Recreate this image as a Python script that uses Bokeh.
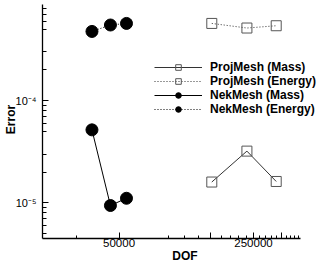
from bokeh.plotting import figure
from bokeh.models import Range1d, FixedTicker, Legend, LegendItem
from bokeh.embed import file_html
from bokeh.resources import INLINE

# Data
nek_dof = [36150, 45100, 54650]
nek_mass = [5.18e-5, 9.43e-6, 1.11e-5]
nek_energy = [4.75e-4, 5.49e-4, 5.69e-4]
proj_dof = [151700, 231000, 328000]
proj_mass = [1.60e-5, 3.21e-5, 1.62e-5]
proj_energy = [5.69e-4, 5.13e-4, 5.40e-4]

x_major = [50000, 150000, 250000, 350000]
x_labels = {50000: "50000", 150000: "", 250000: "250000", 350000: ""}
x_minor = [30000, 90000, 110000, 130000, 170000, 190000, 210000, 230000,
           270000, 290000, 310000, 330000, 370000, 390000, 410000, 430000]
y_major = [1e-5, 1e-4]
y_labels = {1e-5: "10\u207b\u2075", 1e-4: "10\u207b\u2074"}
y_minor = [5e-6, 6e-6, 7e-6, 8e-6, 9e-6, 2e-5, 3e-5, 5e-5, 6e-5, 7e-5, 8e-5, 9e-5,
           2e-4, 3e-4, 5e-4, 6e-4, 7e-4, 8e-4]

FONT = "Liberation Sans"

p = figure(width=327, height=265, x_axis_type="log", y_axis_type="log",
           x_range=Range1d(20000, 606000), y_range=Range1d(4.487e-6, 9.534e-4),
           output_backend="svg", toolbar_location=None,
           min_border_left=0, min_border_right=0, min_border_top=0, min_border_bottom=0)
p.outline_line_color = None
p.grid.visible = False

for ax in (p.xaxis[0], p.yaxis[0]):
    ax.axis_line_color = "black"
    ax.axis_line_width = 1.3
    ax.major_tick_out = 0
    ax.minor_tick_out = 0
    ax.major_tick_line_color = "black"
    ax.minor_tick_line_color = "black"
    ax.major_label_text_font = FONT
    ax.major_label_text_color = "black"
    ax.axis_label_text_font = FONT
    ax.axis_label_text_font_size = "12px"
    ax.axis_label_text_font_style = "bold"
    ax.axis_label_text_color = "black"

xa = p.xaxis[0]
xa.ticker = FixedTicker(ticks=x_major, minor_ticks=x_minor)
xa.major_label_overrides = x_labels
xa.major_label_text_font_size = "11.5px"
xa.major_tick_in = 6
xa.minor_tick_in = 3
xa.bounds = (20000, 438000)
xa.axis_label = "DOF"
xa.major_label_standoff = 0
xa.axis_label_standoff = -1

ya = p.yaxis[0]
ya.ticker = FixedTicker(ticks=y_major, minor_ticks=y_minor)
ya.major_label_overrides = y_labels
ya.major_label_text_font_size = "11px"
ya.major_tick_in = 6
ya.minor_tick_in = 4
ya.bounds = (4.487e-6, 8.71e-4)
ya.axis_label = "Error"
ya.major_label_standoff = 6
ya.axis_label_standoff = -5

r1l = p.line(proj_dof, proj_mass, line_color="#333333", line_width=1)
r1m = p.scatter(proj_dof, proj_mass, marker="square", size=10, line_color="#555555",
                fill_alpha=0, line_width=1)
r2l = p.line(proj_dof, proj_energy, line_color="#333333", line_width=1, line_dash="1 2")
r2m = p.scatter(proj_dof, proj_energy, marker="square", size=10, line_color="#555555",
                fill_alpha=0, line_width=1)
r3l = p.line(nek_dof, nek_mass, line_color="black", line_width=1)
r3m = p.scatter(nek_dof, nek_mass, marker="circle", size=12, line_color="black",
                fill_color="black")
r4l = p.line(nek_dof, nek_energy, line_color="black", line_width=1, line_dash="1 2")
r4m = p.scatter(nek_dof, nek_energy, marker="circle", size=12, line_color="black",
                fill_color="black")

legend = Legend(items=[
    LegendItem(label="ProjMesh (Mass)", renderers=[r1l, r1m]),
    LegendItem(label="ProjMesh (Energy)", renderers=[r2l, r2m]),
    LegendItem(label="NekMesh (Mass)", renderers=[r3l, r3m]),
    LegendItem(label="NekMesh (Energy)", renderers=[r4l, r4m]),
], location=(112, 122))
legend.background_fill_alpha = 0
legend.border_line_color = None
legend.padding = 0
legend.margin = 0
legend.spacing = 0
legend.label_height = 14
legend.glyph_height = 14
legend.glyph_width = 48
legend.label_standoff = 8
legend.label_text_font = FONT
legend.label_text_font_size = "12px"
legend.label_text_font_style = "bold"
legend.label_text_color = "black"
p.add_layout(legend)

open("out.html", "w").write(file_html(p, INLINE))
